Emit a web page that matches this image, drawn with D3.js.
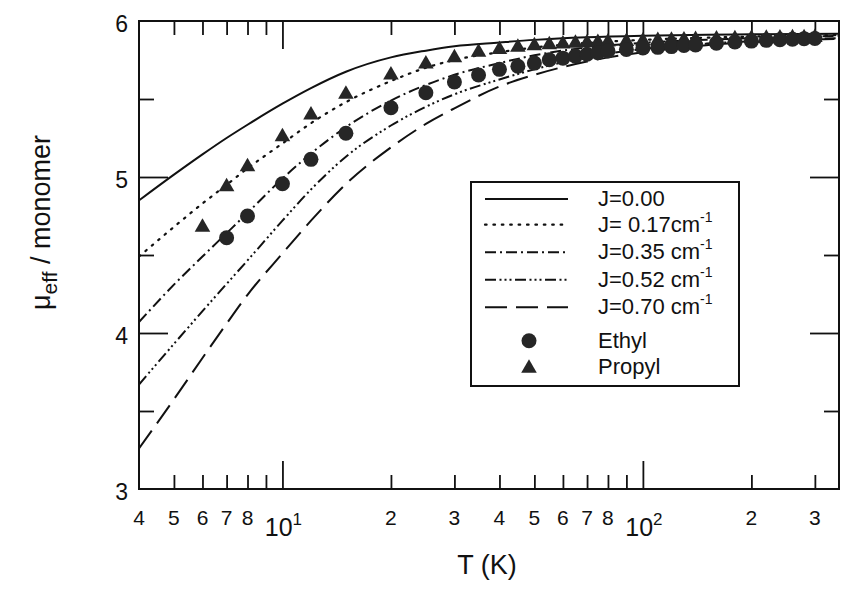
<!DOCTYPE html>
<html><head><meta charset="utf-8">
<script src="https://cdn.jsdelivr.net/npm/d3@7"></script>
<style>body{margin:0;background:#fff}svg{display:block}</style>
</head><body>
<svg id="c" width="859" height="600"></svg>
<script>
// ---- data ----
const curveT = [4,5,6,7,8,10,12,15,20,25,30,40,50,70,100,150,200,350];
const muJ000 = [4.85,5.015,5.145,5.25,5.335,5.47,5.57,5.675,5.767,5.81,5.838,5.862,5.879,5.896,5.906,5.912,5.915,5.918];
const muJ017 = [4.49,4.68,4.83,4.95,5.055,5.215,5.345,5.48,5.615,5.70,5.75,5.80,5.83,5.86,5.879,5.893,5.90,5.91];
const muJ035 = [4.07,4.31,4.49,4.64,4.77,4.99,5.15,5.32,5.49,5.59,5.655,5.73,5.78,5.83,5.86,5.88,5.89,5.905];
const muJ052 = [3.67,3.93,4.14,4.315,4.465,4.72,4.92,5.13,5.33,5.45,5.53,5.625,5.69,5.77,5.82,5.855,5.87,5.89];
const muJ070 = [3.26,3.575,3.84,4.06,4.245,4.51,4.72,4.955,5.19,5.34,5.44,5.58,5.655,5.74,5.80,5.845,5.865,5.885];

const ethylT  = [7,8,10,12,15,20,25,30,35,40,45,50,55,60,65,70,75,80,90,100,110,120,130,140,160,180,200,220,240,260,280,300];
const ethylMu = [4.611,4.75,4.957,5.113,5.28,5.444,5.54,5.609,5.654,5.69,5.71,5.73,5.752,5.762,5.775,5.787,5.797,5.808,5.818,5.827,5.831,5.836,5.843,5.846,5.858,5.865,5.871,5.876,5.88,5.883,5.887,5.888];
const propylT  = [6,7,8,10,12,15,20,25,30,35,40,45,50,55,60,65,70,75,80,90,100,110,120,130,140,160,180,200,220,240,260,280,300];
const propylMu = [4.678,4.938,5.066,5.258,5.397,5.53,5.654,5.724,5.765,5.80,5.817,5.832,5.842,5.848,5.853,5.858,5.861,5.863,5.866,5.869,5.872,5.875,5.877,5.879,5.881,5.884,5.886,5.888,5.89,5.891,5.892,5.893,5.894];

const xMajor = [10,100];
const xMinor = [5,6,7,8,9,20,30,40,50,60,70,80,90,200,300];
const xLabelVals = [4,5,6,7,8,20,30,40,50,60,70,80,200,300];
const xLabelText = ["4","5","6","7","8","2","3","4","5","6","7","8","2","3"];
const xPowVals = [10,100];
const xPowExp = ["1","2"];
const yMajor = [4,5];
const yMinor = [3.5,4.5,5.5];
const yLabelVals = [3,4,5,6];

const seriesNames = ["J=0.00","J= 0.17cm","J=0.35 cm","J=0.52 cm","J=0.70 cm"];
const seriesSup = ["","-1","-1","-1","-1"];
const dashes = [null,"1.6,6.8","11,4,2,4","11,3.5,2,3,2,3,2,3.5","22,9"];

// ---- chart ----
const svg = d3.select("#c");
const L=139,R=839,T0=21,B=489;
const x = d3.scaleLog().domain([4,350]).range([L,R]);
const y = d3.scaleLinear().domain([3,6]).range([B,T0]);
const font = "Liberation Sans, Arial, Helvetica, sans-serif";
const ink = "#111";

function tickAxis(gen, vals, size, tr){
  const g = svg.append("g").attr("transform",tr)
    .call(gen.tickValues(vals).tickSize(size).tickFormat(""));
  g.select(".domain").remove();
  g.selectAll("line").attr("stroke",ink).attr("stroke-width",1.8);
}
tickAxis(d3.axisBottom(x), xMajor, -28, `translate(0,${B})`);
tickAxis(d3.axisBottom(x), xMinor, -14, `translate(0,${B})`);
tickAxis(d3.axisTop(x), xMajor, -28, `translate(0,${T0})`);
tickAxis(d3.axisTop(x), xMinor, -14, `translate(0,${T0})`);
tickAxis(d3.axisLeft(y), yMajor, -29, `translate(${L},0)`);
tickAxis(d3.axisLeft(y), yMinor, -15, `translate(${L},0)`);
tickAxis(d3.axisRight(y), yMajor, -29, `translate(${R},0)`);
tickAxis(d3.axisRight(y), yMinor, -15, `translate(${R},0)`);

svg.append("rect").attr("x",L).attr("y",T0).attr("width",R-L).attr("height",B-T0)
  .attr("fill","none").attr("stroke",ink).attr("stroke-width",2);

// x labels
svg.append("g").selectAll("text").data(xLabelVals).join("text")
  .attr("x",d=>x(d)).attr("y",525).attr("text-anchor","middle")
  .attr("font-family",font).attr("font-size",21).attr("fill",ink)
  .text((d,i)=>xLabelText[i]);
const pw = svg.append("g").selectAll("text").data(xPowVals).join("text")
  .attr("x",d=>x(d)+1).attr("y",536).attr("text-anchor","middle")
  .attr("font-family",font).attr("font-size",25).attr("fill",ink);
pw.append("tspan").text("10");
pw.append("tspan").attr("font-size",17).attr("dy",-11).text((d,i)=>xPowExp[i]);

// y labels
svg.append("g").selectAll("text").data(yLabelVals).join("text")
  .attr("x",128).attr("y",d=>y(d)+11).attr("text-anchor","end")
  .attr("font-family",font).attr("font-size",23).attr("fill",ink)
  .text(d=>d);

// axis titles
svg.append("text").attr("x",487).attr("y",574).attr("text-anchor","middle")
  .attr("font-family",font).attr("font-size",27).attr("fill",ink).text("T (K)");
const yt = svg.append("text").attr("transform","translate(50,310) rotate(-90)")
  .attr("font-family",font).attr("font-size",27).attr("fill",ink);
yt.append("tspan").text("μ");
yt.append("tspan").attr("font-size",21).attr("dy",7).text("eff");
yt.append("tspan").attr("dy",-7).text(" / monomer");

// curves
const curves = [muJ000,muJ017,muJ035,muJ052,muJ070];
const line = d3.line().x(d=>x(d[0])).y(d=>y(d[1])).curve(d3.curveMonotoneX);
svg.append("clipPath").attr("id","pc").append("rect")
  .attr("x",L).attr("y",T0).attr("width",R-L).attr("height",B-T0);
const gc = svg.append("g").attr("clip-path","url(#pc)");
curves.forEach((arr,i)=>{
  gc.append("path").datum(curveT.map((t,k)=>[t,arr[k]]))
    .attr("d",line).attr("fill","none").attr("stroke",ink)
    .attr("stroke-width",i===1?2.2:2).attr("stroke-linecap",i===1?"round":"butt")
    .attr("stroke-dasharray",dashes[i]);
});

// markers
const mk = "#262626";
svg.append("g").selectAll("path").data(propylT).join("path")
  .attr("transform",(d,i)=>`translate(${x(d)},${y(propylMu[i])})`)
  .attr("d",d3.symbol(d3.symbolTriangle,105)).attr("fill",mk);
svg.append("g").selectAll("circle").data(ethylT).join("circle")
  .attr("cx",d=>x(d)).attr("cy",(d,i)=>y(ethylMu[i])).attr("r",7.5).attr("fill",mk);

// legend
const lg = svg.append("g");
lg.append("rect").attr("x",471).attr("y",182).attr("width",268).attr("height",204)
  .attr("fill","#fff").attr("stroke",ink).attr("stroke-width",2);
const rowY = [206,231.7,259.3,286.7,314.3,347.7,374.3];
seriesNames.forEach((nm,i)=>{
  lg.append("line").attr("x1",485).attr("x2",568).attr("y1",rowY[i]-7).attr("y2",rowY[i]-7)
    .attr("stroke",ink).attr("stroke-width",i===1?2.2:2)
    .attr("stroke-linecap",i===1?"round":"butt").attr("stroke-dasharray",dashes[i]);
  const t = lg.append("text").attr("x",598).attr("y",rowY[i])
    .attr("font-family",font).attr("font-size",22).attr("fill",ink);
  t.append("tspan").text(nm);
  if(seriesSup[i]) t.append("tspan").attr("font-size",14).attr("dy",-10).text(seriesSup[i]);
});
lg.append("circle").attr("cx",529).attr("cy",rowY[5]-7).attr("r",7.5).attr("fill",mk);
lg.append("text").attr("x",598).attr("y",rowY[5]).attr("font-family",font).attr("font-size",22).attr("fill",ink).text("Ethyl");
lg.append("path").attr("transform",`translate(529,${rowY[6]-6})`)
  .attr("d",d3.symbol(d3.symbolTriangle,105)).attr("fill",mk);
lg.append("text").attr("x",598).attr("y",rowY[6]).attr("font-family",font).attr("font-size",22).attr("fill",ink).text("Propyl");
</script>
</body></html>
